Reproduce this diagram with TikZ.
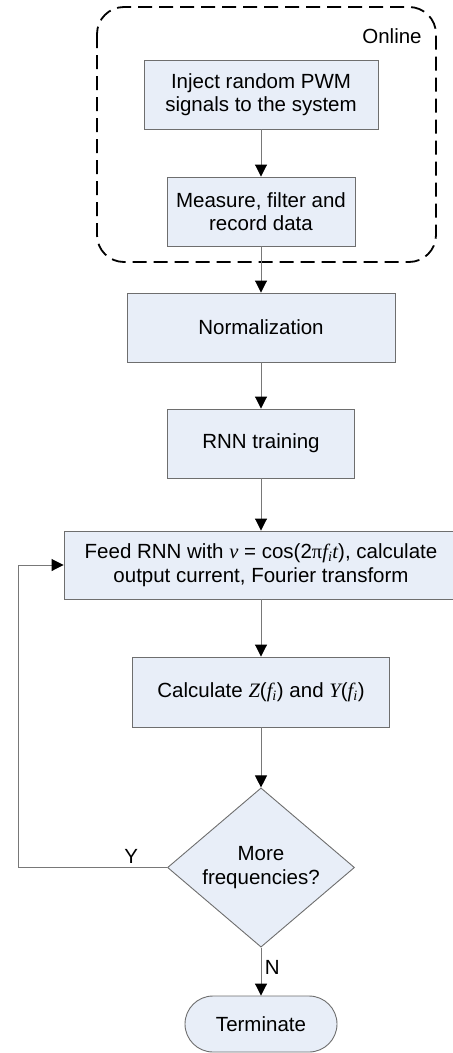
\documentclass[tikz,border=0pt]{standalone}
\usepackage{fontspec}
\setmainfont{Liberation Sans}
\newfontfamily\tms{Liberation Serif}
\usepackage{tikz}
\usetikzlibrary{arrows.meta,shapes.geometric,positioning}

\definecolor{boxfill}{RGB}{232,238,248}
\definecolor{boxline}{RGB}{110,110,110}
\definecolor{lineg}{RGB}{120,120,120}

\tikzset{
	txt/.style={font=\fontsize{20.5bp}{23.5bp}\selectfont},
	proc/.style={rectangle, draw=boxline, fill=boxfill, line width=0.9bp, minimum height=69bp, align=center, inner sep=0pt, txt},
	decide/.style={diamond, draw=boxline, fill=boxfill, line width=0.9bp, minimum width=187bp, minimum height=140bp, inner sep=0pt, align=center, txt},
	stop/.style={rectangle, rounded corners=28bp, draw=boxline, fill=boxfill, line width=0.9bp, minimum width=152bp, minimum height=56bp, inner sep=0pt, txt},
	flow/.style={draw=lineg, line width=0.9bp}
}

\begin{document}
\begin{tikzpicture}[>={Triangle[width=12bp,length=12bp,color=black]}]
	\clip (0bp,0bp) rectangle (453bp,-1053bp);

	\draw [line width=1.8bp, dash pattern=on 14bp off 7bp, rounded corners=27bp] (97bp,-7bp) rectangle (436bp,-262bp);
	\node (online) at (392bp,-36bp) [txt] {Online};

	\node (inject) at (261bp,-94.5bp) [proc, minimum width=234bp] {Inject random PWM\\signals to the system};
	\node (measure) at (261bp,-211.5bp) [proc, minimum width=188bp] {Measure, filter and\\record data};
	\node (norm) at (261bp,-327.5bp) [proc, minimum width=268bp] {Normalization};
	\node (rnn) at (261bp,-443.5bp) [proc, minimum width=187bp] {RNN training};
	\node (feed) at (261bp,-565bp) [proc, minimum width=394bp, minimum height=68bp] {Feed RNN with {\tms\itshape v} = cos(2{\tms π}{\tms\itshape f\textsubscript{i}t}), calculate\\output current, Fourier transform};
	\node (calc) at (261bp,-692bp) [proc, minimum width=257bp, minimum height=70bp] {Calculate {\tms\itshape Z}({\tms\itshape f\textsubscript{i}}) and {\tms\itshape Y}({\tms\itshape f\textsubscript{i}})};
	\node (more) at (261bp,-867.5bp) [decide] {More\\frequencies?};
	\node (term) at (261bp,-1024bp) [stop] {Terminate};
	\coordinate (back) at (18bp,-867.5bp);

	\draw [flow,->] (inject) to (measure);
	\draw [flow,->] (measure) to (norm);
	\draw [flow,->] (norm) to (rnn);
	\draw [flow,->] (rnn) to (feed);
	\draw [flow,->] (feed) to (calc);
	\draw [flow,->] (calc) to (more);
	\draw [flow,->] (more) to node[right, txt, pos=0.42] {N} (term);
	\draw [flow,->] (more.west) -- node[above, txt, pos=0.24] {Y} (back) |- (feed.west);

\end{tikzpicture}
\end{document}
